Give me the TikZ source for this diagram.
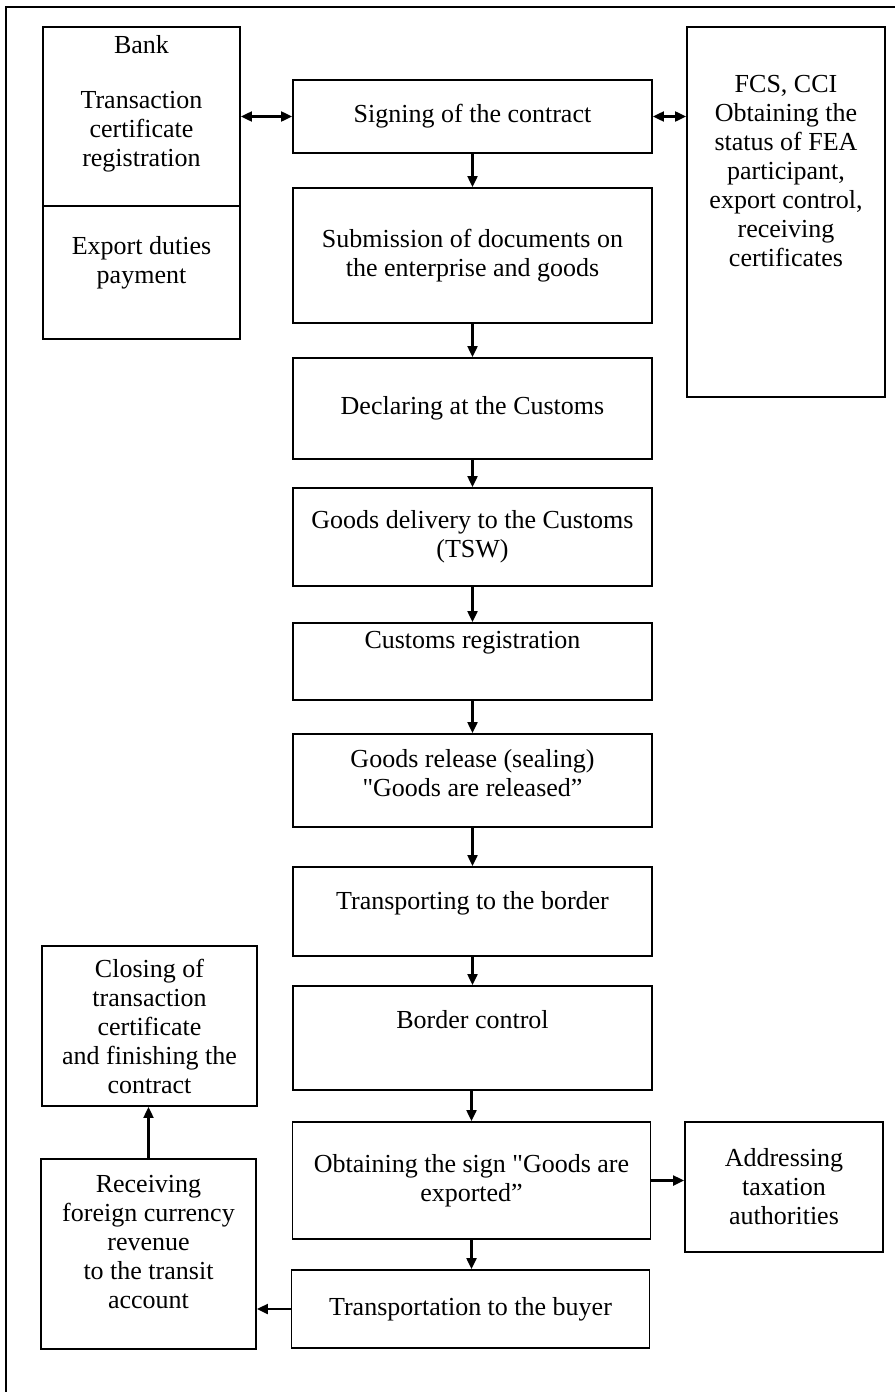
\documentclass[tikz,border=0pt]{standalone}
\usepackage{fontspec}
\setmainfont{Liberation Serif}
\usetikzlibrary{arrows.meta}

\tikzset{
  box/.style={draw,line width=1.9pt,inner sep=0pt,align=center},
  txt/.style={inner sep=0pt,align=center},
  arr/.style={line width=2.2pt,-{Triangle[length=11pt,width=10pt]}},
  darr/.style={line width=2.2pt,{Triangle[length=11pt,width=10pt]}-{Triangle[length=11pt,width=10pt]}}
}

\begin{document}
\begin{tikzpicture}[x=1pt,y=-1pt,every node/.append style={font=\fontsize{26}{29}\selectfont}]
  \useasboundingbox (0,0) rectangle (895,1392);
  % frame
  \draw[line width=1.8pt] (6,1392) -- (6,7) -- (895,7);

  % left column
  \node[box,minimum width=197pt,minimum height=312pt] (bank) at (141.5,183) {};
  \draw[line width=1.9pt] (bank.west |- 0,206) -- (bank.east |- 0,206);
  \node[txt] (tBank) at (141.5,45) {Bank};
  \node[txt] (tCert) at (141.5,132) {Transaction\\certificate\\registration};
  \node[txt] (tDuty) at (141.5,263) {Export duties\\payment};

  \node[box,minimum width=215pt,minimum height=160pt] (close) at (149.5,1026)
    {Closing of\\transaction\\certificate\\and finishing the\\contract};
  \node[box,minimum width=215pt,minimum height=190pt] (recv) at (148.5,1254) {};
  \node[txt] (tRecv) at (148.5,1242) {Receiving\\foreign currency\\revenue\\to the transit\\account};

  % main column
  \node[box,minimum width=359pt,minimum height=73pt] (sign) at (472.5,116.5) {Signing of the contract};
  \node[box,minimum width=359pt,minimum height=135pt] (subm) at (472.5,255.5)
    {Submission of documents on\\the enterprise and goods};
  \node[box,minimum width=359pt,minimum height=101pt] (decl) at (472.5,408.5) {Declaring at the Customs};
  \node[box,minimum width=359pt,minimum height=98pt] (deliv) at (472.5,537)
    {Goods delivery to the Customs\\(TSW)};
  \node[box,minimum width=359pt,minimum height=77pt] (reg) at (472.5,661.5) {};
  \node[txt] (tReg) at (472.5,643) {Customs registration};
  \node[box,minimum width=359pt,minimum height=93pt] (rel) at (472.5,780.5) {};
  \node[txt] (tRel) at (472.5,773) {Goods release (sealing)\\\textquotedbl Goods are released''};
  \node[box,minimum width=359pt,minimum height=89pt] (trans) at (472.5,911.5) {};
  \node[txt] (tTrans) at (472.5,903) {Transporting to the border};
  \node[box,minimum width=359pt,minimum height=104pt] (bord) at (472.5,1038) {};
  \node[txt] (tBord) at (472.5,1020) {Border control};
  \node[box,minimum width=358pt,minimum height=117pt] (obt) at (471.5,1180.5)
    {Obtaining the sign \textquotedbl Goods are\\exported''};
  \node[box,minimum width=358pt,minimum height=78pt] (buyer) at (470.5,1309) {Transportation to the buyer};

  % right column
  \node[box,minimum width=198pt,minimum height=370pt] (fcs) at (786,212) {};
  \node[txt] (tFcs) at (786,171)
    {FCS, CCI\\Obtaining the\\status of FEA\\participant,\\export control,\\receiving\\certificates};
  \node[box,minimum width=198pt,minimum height=130pt] (addr) at (784,1187)
    {Addressing\\taxation\\authorities};

  % connectors
  \draw[darr] (sign.west -| bank.east) -- (sign.west);
  \draw[darr] (sign.east) -- (sign.east -| fcs.west);
  \draw[arr] (sign) -- (subm);
  \draw[arr] (subm) -- (decl);
  \draw[arr] (decl) -- (deliv);
  \draw[arr] (deliv) -- (reg);
  \draw[arr] (reg) -- (rel);
  \draw[arr] (rel) -- (trans);
  \draw[arr] (trans) -- (bord);
  \draw[arr] (bord.south -| obt.north) -- (obt.north);
  \draw[arr] (obt) -- (obt.south |- buyer.north);
  \draw[arr] (obt.east) -- (obt.east -| addr.west);
  \draw[arr] (buyer.west) -- (buyer.west -| recv.east);
  \draw[arr] (recv.north) -- (recv.north |- close.south);
\end{tikzpicture}
\end{document}
